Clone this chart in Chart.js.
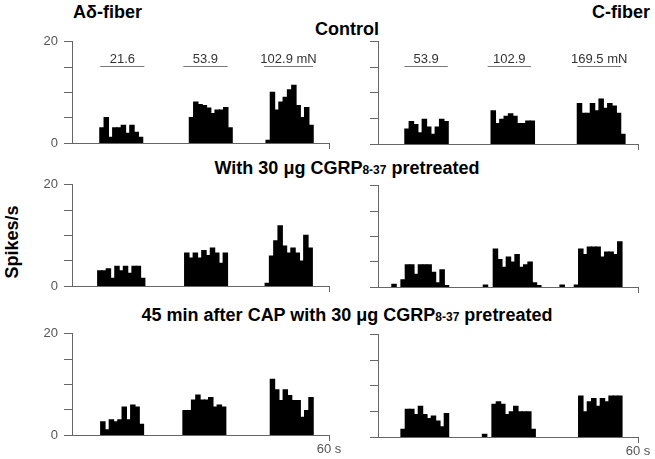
<!DOCTYPE html>
<html><head><meta charset="utf-8">
<script src="https://cdn.jsdelivr.net/npm/chart.js@4.4.1/dist/chart.umd.min.js"></script>
<style>
html,body{margin:0;padding:0;background:#fff}
#wrap{position:relative;width:655px;height:459px;overflow:hidden;font-family:"Liberation Sans",Arial,sans-serif}
.ttl{position:absolute;font-weight:bold;font-size:18px;line-height:18px;color:#000;white-space:nowrap}
.ctr{transform:translateX(-50%)}
.sub{font-size:12px}
canvas{position:absolute}
#ylab{position:absolute;left:12px;top:242px;transform:translate(-50%,-50%) rotate(-90deg);font-weight:bold;font-size:18px;line-height:18px;white-space:nowrap}
</style></head>
<body><div id="wrap">
<div class="ttl" style="left:73px;top:3px">Aδ-fiber</div>
<div class="ttl" style="left:592px;top:3px">C-fiber</div>
<div class="ttl ctr" style="left:347px;top:20px">Control</div>
<div class="ttl ctr" style="left:347px;top:159px">With 30 μg CGRP<span class="sub">8-37</span> pretreated</div>
<div class="ttl ctr" style="left:347px;top:306px">45 min after CAP with 30 μg CGRP<span class="sub">8-37</span> pretreated</div>
<div id="ylab">Spikes/s</div>
</div>
<script>
// ---------- data (spikes/s in 1-s bins; time axis 0-60 s) ----------
const X_MAX = 60;
const Y_MAX = 20;
const Y_STEP = 5;
const xEndLabel = '60 s';
const stimLevel = 15.3;

// A-delta fiber, Control
const adControlStarts = [6.5, 27.4, 45.3];
const adControlRates = [
  [3.0, 5.0, 1.1, 3.0, 3.0, 3.5, 1.9, 3.5, 2.1, 1.1],
  [5.0, 8.1, 7.6, 7.4, 6.9, 5.8, 6.5, 6.5, 7.0, 3.0],
  [0.5, 10.0, 6.5, 8.1, 9.0, 10.5, 11.4, 7.4, 5.0, 7.0, 3.5]
];
const adControlStim = [[6.6, 16.9], [26.0, 36.3], [44.8, 56.3]];
const adControlForces = ['21.6', '53.9', '102.9 mN'];

// C fiber, Control
const cControlStarts = [6.2, 26.1, 46.0];
const cControlRates = [
  [2.9, 4.4, 3.8, 2.2, 4.8, 3.3, 1.9, 3.3, 4.8, 4.4],
  [6.5, 4.0, 4.8, 5.4, 5.9, 5.4, 4.0, 4.0, 4.5, 4.5],
  [7.9, 6.0, 6.0, 7.9, 6.5, 8.8, 7.0, 7.9, 7.4, 6.0, 1.9]
];
const cControlStim = [[6.1, 16.1], [25.3, 35.3], [46.0, 56.1]];
const cControlForces = ['53.9', '102.9', '169.5 mN'];

// A-delta fiber, CGRP8-37 pretreated
const adCgrpStarts = [6.0, 26.3, 45.1];
const adCgrpRates = [
  [3.0, 3.0, 3.4, 1.5, 3.9, 3.0, 3.9, 2.5, 3.9, 3.9, 1.5],
  [6.5, 5.5, 6.5, 5.5, 7.0, 6.0, 7.5, 6.5, 4.5, 6.5],
  [0.5, 5.9, 8.9, 11.9, 7.9, 6.5, 7.5, 6.5, 4.9, 10.0, 7.5]
];

// C fiber, CGRP8-37 pretreated
const cCgrpStarts = [3.2, 5.3, 24.3, 26.6, 42.0, 45.3];
const cCgrpRates = [
  [0.5],
  [1.4, 4.4, 4.4, 2.5, 4.4, 4.4, 4.4, 2.9, 0.8, 3.4, 0.3],
  [0.4],
  [7.5, 5.4, 3.9, 5.9, 4.9, 6.4, 3.9, 4.4, 4.9, 0.8, 0.3],
  [0.4],
  [0.4, 7.5, 6.4, 7.9, 7.9, 7.9, 5.9, 6.9, 6.9, 6.4, 8.9]
];

// A-delta fiber, 45 min after CAP with CGRP8-37
const adCapStarts = [6.7, 25.9, 46.3];
const adCapRates = [
  [2.6, 1.0, 3.0, 2.6, 3.0, 5.5, 3.0, 5.9, 5.5, 2.1],
  [4.8, 4.8, 6.9, 7.9, 6.9, 6.9, 7.4, 5.5, 5.9, 5.5],
  [11.0, 8.9, 6.8, 8.9, 7.8, 6.8, 6.8, 3.5, 4.8, 7.4]
];

// C fiber, 45 min after CAP with CGRP8-37
const cCapStarts = [5.3, 24.1, 26.3, 46.3];
const cCapRates = [
  [1.5, 5.4, 5.4, 4.4, 6.0, 4.4, 3.6, 4.1, 3.1, 2.0, 4.6],
  [0.5],
  [6.4, 6.9, 6.4, 4.4, 4.9, 6.0, 4.9, 4.9, 4.9, 1.5],
  [8.0, 4.9, 6.9, 7.5, 6.0, 7.5, 6.9, 8.0, 8.0, 8.0]
];

// ---------- layout / style ----------
const FONT = '"Liberation Sans", Arial, sans-serif';
const AXIS = '#666';
const TICK_TXT = '#555';
const YW = 45, PT = 12, PR = 18, XH = 24;

function toBars(starts, rates) {
  const out = [];
  starts.forEach((s, g) => rates[g].forEach((v, i) => out.push({ x: s + i + 0.5, y: v })));
  return out;
}

const panels = [
  { area: [72, 40, 329, 143], starts: adControlStarts, rates: adControlRates, yLab: true, xLab: false, stim: adControlStim, forces: adControlForces },
  { area: [378, 40, 638, 144], starts: cControlStarts, rates: cControlRates, yLab: false, xLab: false, stim: cControlStim, forces: cControlForces },
  { area: [72, 183, 329, 286], starts: adCgrpStarts, rates: adCgrpRates, yLab: true, xLab: false },
  { area: [378, 184, 638, 287], starts: cCgrpStarts, rates: cCgrpRates, yLab: false, xLab: false },
  { area: [72, 332, 329, 435], starts: adCapStarts, rates: adCapRates, yLab: true, xLab: true },
  { area: [378, 333, 638, 437], starts: cCapStarts, rates: cCapRates, yLab: false, xLab: true }
];

const stimPlugin = {
  id: 'stim',
  afterDraw(chart, args, opts) {
    if (!opts || !opts.spans) return;
    const ctx = chart.ctx, x = chart.scales.x, y = chart.scales.y;
    const py = Math.round(y.getPixelForValue(opts.level)) + 0.5;
    ctx.save();
    ctx.strokeStyle = '#777';
    ctx.lineWidth = 1;
    ctx.fillStyle = '#333';
    ctx.font = '13px ' + FONT;
    ctx.textAlign = 'center';
    ctx.textBaseline = 'alphabetic';
    opts.spans.forEach((sp, i) => {
      const a = x.getPixelForValue(sp[0]), b = x.getPixelForValue(sp[1]);
      ctx.beginPath(); ctx.moveTo(a, py); ctx.lineTo(b, py); ctx.stroke();
      ctx.fillText(opts.labels[i], (a + b) / 2, py - 4);
    });
    ctx.restore();
  }
};

const wrap = document.getElementById('wrap');
panels.forEach(p => {
  const [l, t, r, b] = p.area;
  const w = YW + (r - l) + PR, h = PT + (b - t) + XH;
  const c = document.createElement('canvas');
  c.width = w; c.height = h;
  c.style.left = (l - YW) + 'px'; c.style.top = (t - PT) + 'px';
  c.style.width = w + 'px'; c.style.height = h + 'px';
  wrap.appendChild(c);
  new Chart(c, {
    type: 'bar',
    data: { datasets: [{ data: toBars(p.starts, p.rates), backgroundColor: '#000', borderColor: '#000', borderWidth: 0, barPercentage: 1, categoryPercentage: 1, inflateAmount: 0.6, grouped: false }] },
    options: {
      responsive: false, animation: false, devicePixelRatio: 1,
      layout: { padding: { top: PT, right: PR, left: 0, bottom: 0 } },
      plugins: {
        legend: { display: false }, tooltip: { enabled: false },
        stim: p.stim ? { spans: p.stim, labels: p.forces, level: stimLevel } : {}
      },
      scales: {
        x: {
          type: 'linear', min: 0, max: X_MAX, offset: false,
          afterBuildTicks: s => { s.ticks = [{ value: X_MAX }]; },
          afterFit: s => { s.height = XH; },
          grid: { display: true, offset: false, drawOnChartArea: false, drawTicks: true, tickLength: 6, color: AXIS, lineWidth: 1 },
          border: { display: true, color: AXIS, width: 1 },
          ticks: { autoSkip: false, maxRotation: 0, padding: 1, color: TICK_TXT, font: { family: FONT, size: 13 }, callback: () => p.xLab ? xEndLabel : '' }
        },
        y: {
          min: 0, max: Y_MAX,
          afterFit: s => { s.width = YW; },
          grid: { display: true, drawOnChartArea: false, drawTicks: true, tickLength: 8, color: AXIS, lineWidth: 1 },
          border: { display: true, color: AXIS, width: 1 },
          ticks: { stepSize: Y_STEP, padding: 6, color: TICK_TXT, font: { family: FONT, size: 13 }, callback: v => (p.yLab && (v === 0 || v === Y_MAX)) ? String(v) : '' }
        }
      }
    },
    plugins: [stimPlugin]
  });
});
</script>
</body></html>
